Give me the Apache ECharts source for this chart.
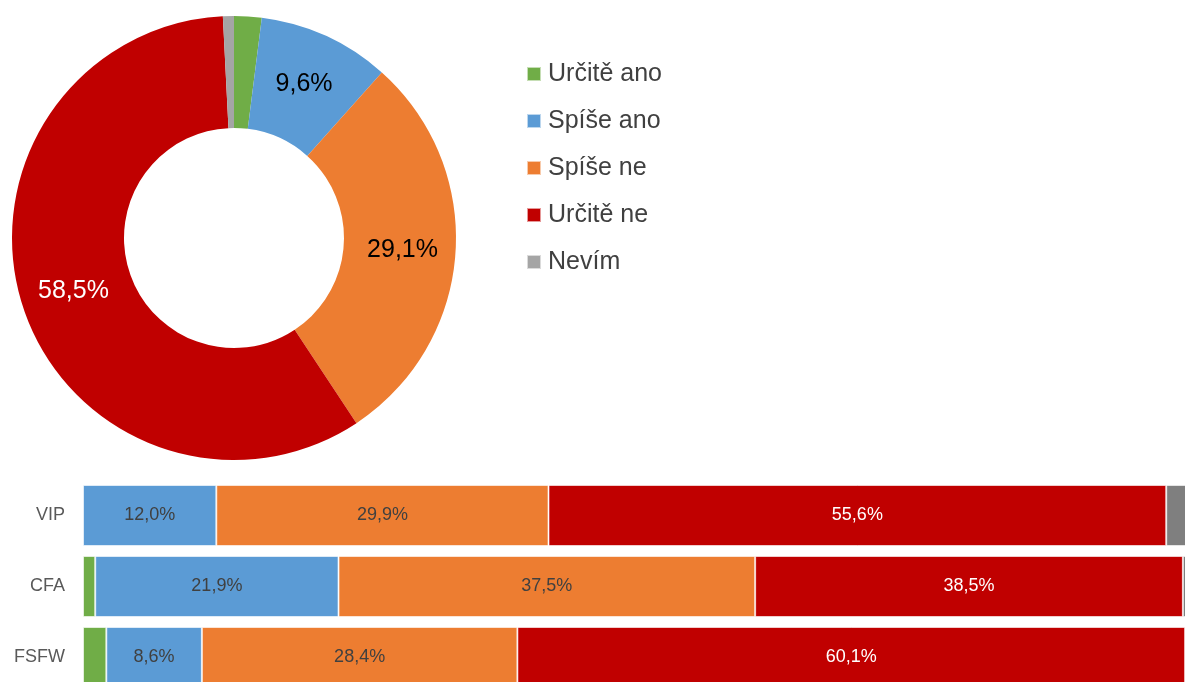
<!DOCTYPE html>
<html>
<head>
<meta charset="utf-8">
<script src="https://cdn.jsdelivr.net/npm/echarts@6/dist/echarts.min.js"></script>
<style>
  html, body { margin: 0; padding: 0; background: #fff; }
  #chart { width: 1185px; height: 682px; }
</style>
</head>
<body>
<div id="chart"></div>
<script>
// answer categories (legend + donut order)
const answers = ['Určitě ano', 'Spíše ano', 'Spíše ne', 'Určitě ne', 'Nevím']
// overall donut values (%)
const totalValues = [2.0, 9.6, 29.1, 58.5, 0.8]

// groups for the stacked bars
const groups = ['VIP', 'CFA', 'FSFW']
const urciteAno = [0, 1.1, 2.1]
const spiseAno = [12.0, 21.9, 8.6]
const spiseNe = [29.9, 37.5, 28.4]
const urciteNe = [55.6, 38.5, 60.1]
const nevim = [2.5, 1.0, 0.8]

const pieColors = ['#70ad47', '#5b9bd5', '#ed7d31', '#c00000', '#a5a5a5']
const barColors = ['#70ad47', '#5b9bd5', '#ed7d31', '#c00000', '#7f7f7f']
const font = '"Liberation Sans", Arial, sans-serif'

const fmt = v => v.toFixed(1).replace('.', ',') + '%'

const chart = echarts.init(document.getElementById('chart'))

// which donut slices get a label and in which colour
const pieLabelColor = [null, '#000', '#000', '#fff', null]

const barSeriesData = [urciteAno, spiseAno, spiseNe, urciteNe, nevim]
const barLabelColor = [null, '#404040', '#404040', '#fff', null]

const option = {
  animation: false,
  legend: {
    orient: 'vertical',
    left: 526,
    top: 60,
    padding: 0,
    itemWidth: 14,
    itemHeight: 14,
    itemGap: 19,
    icon: 'rect',
    selectedMode: false,
    textStyle: { fontSize: 25, color: '#404040', fontFamily: font, lineHeight: 28, padding: [0, 0, 0, 2] },
    data: answers.map((name, i) => ({ name, itemStyle: { color: pieColors[i] } }))
  },
  grid: {
    left: 83,
    top: 480,
    width: 1111,
    height: 213,
    outerBoundsMode: 'none'
  },
  xAxis: {
    type: 'value',
    min: 0,
    max: 100,
    show: false
  },
  yAxis: {
    type: 'category',
    data: groups,
    inverse: true,
    axisLine: { show: false },
    axisTick: { show: false },
    axisLabel: { fontSize: 18, color: '#595959', fontFamily: font, margin: 18 }
  },
  series: [
    {
      type: 'pie',
      name: 'Celkem',
      center: [234, 238],
      radius: [110, 222],
      startAngle: 90,
      clockwise: true,
      legendHoverLink: false,
      label: { position: 'inside' },
      labelLine: { show: false },
      data: answers.map((name, i) => ({
        name,
        value: totalValues[i],
        itemStyle: { color: pieColors[i] },
        label: pieLabelColor[i]
          ? { show: true, color: pieLabelColor[i], fontSize: 25, fontFamily: font,
              formatter: p => fmt(p.value) }
          : { show: false }
      }))
    },
    ...answers.map((name, i) => ({
      type: 'bar',
      name,
      stack: 'total',
      barWidth: 61,
      data: barSeriesData[i],
      itemStyle: { color: barColors[i], borderColor: 'rgba(255,255,255,0.6)', borderWidth: 1 },
      label: barLabelColor[i]
        ? { show: true, position: 'inside', color: barLabelColor[i], fontSize: 18, fontFamily: font,
            formatter: p => fmt(p.value) }
        : { show: false }
    }))
  ]
}

chart.setOption(option)
</script>
</body>
</html>
